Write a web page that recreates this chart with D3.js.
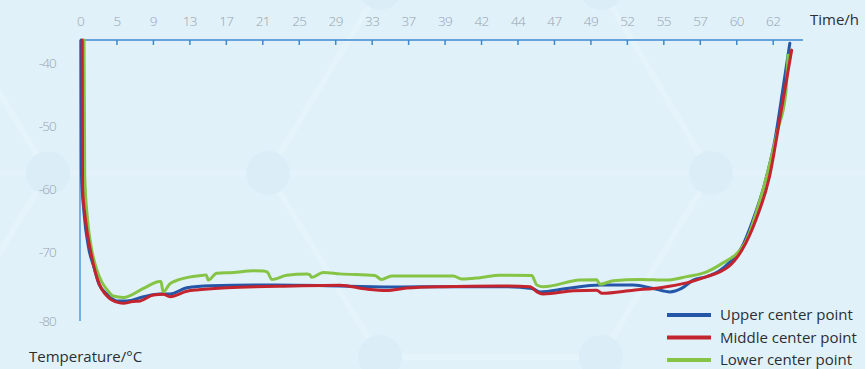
<!DOCTYPE html>
<html>
<head>
<meta charset="utf-8">
<script src="https://cdn.jsdelivr.net/npm/d3@7"></script>
<style>
  html, body { margin: 0; padding: 0; background: #e0f1fa; }
  svg { display: block; }
</style>
</head>
<body>
<svg id="chart" width="865" height="369"></svg>
<script>
// Time axis labels (hours), placed at evenly spaced slots along the top axis
const timeLabels = [0, 5, 9, 13, 17, 21, 25, 29, 33, 37, 39, 42, 44, 47, 49, 52, 55, 57, 60, 62];
const tempTicks = [-40, -50, -60, -70, -80];

// Each reading: [axis slot, temperature °C]
const upperCenter = [
  [0.03, -36.3], [0.04, -57.5], [0.11, -63.8], [0.23, -69.2], [0.38, -72.2], [0.53, -74.8],
  [0.76, -76.2], [1.01, -77.1], [1.28, -77.1], [1.74, -76.5], [2.19, -76.1], [2.47, -76.1],
  [2.93, -75.2], [3.57, -74.9], [5.37, -74.8], [7.13, -74.95], [8.78, -75.1], [9.91, -75.05],
  [11.52, -75.05], [12.39, -75.3], [12.62, -75.8], [13.35, -75.3], [14.26, -74.8], [15.18, -74.8],
  [15.72, -75.3], [16.18, -75.8], [16.5, -75.3], [16.82, -74.1], [17.19, -73.6], [17.55, -72.7],
  [17.78, -71.7], [18.16, -69.2], [18.46, -64.9], [18.76, -59.6], [19.06, -52.2], [19.29, -43.7],
  [19.47, -36.8]
];
const middleCenter = [
  [0.06, -36.3], [0.07, -59.7], [0.15, -64.9], [0.3, -70.2], [0.5, -74.3], [0.76, -76.5],
  [1.06, -77.35], [1.19, -77.45], [1.44, -77.2], [1.65, -77.1], [2.01, -76.25], [2.28, -76.15],
  [2.47, -76.5], [2.93, -75.7], [3.25, -75.5], [4.02, -75.2], [5.85, -74.95], [7.13, -74.85],
  [7.86, -75.4], [8.41, -75.6], [8.96, -75.25], [9.91, -75.05], [11.52, -74.95], [12.34, -75.05],
  [12.57, -75.9], [12.71, -76.1], [13.53, -75.65], [14.17, -75.55], [14.31, -76.0], [15.18, -75.55],
  [15.96, -75.15], [16.64, -74.5], [17.19, -73.6], [17.55, -72.9], [17.78, -72.2], [18.16, -69.7],
  [18.54, -64.9], [18.91, -58.1], [19.22, -48.0], [19.52, -37.9]
];
const lowerCenter = [
  [0.11, -36.3], [0.13, -58.0], [0.2, -64.5], [0.3, -69.0], [0.46, -72.6], [0.6, -74.4],
  [0.76, -75.6], [0.91, -76.4], [1.19, -76.6], [1.74, -75.3], [2.19, -74.3], [2.22, -74.3],
  [2.28, -75.8], [2.47, -74.6], [2.74, -74.0], [3.38, -73.4], [3.46, -73.35], [3.52, -74.1],
  [3.75, -73.1], [4.2, -73.0], [4.75, -72.75], [5.03, -72.8], [5.14, -72.95], [5.26, -74.0],
  [5.67, -73.4], [6.22, -73.2], [6.3, -73.3], [6.35, -73.7], [6.67, -73.0], [7.13, -73.2],
  [8.09, -73.45], [8.27, -74.0], [8.55, -73.5], [10.24, -73.5], [10.47, -73.95], [10.97, -73.75],
  [11.52, -73.4], [12.39, -73.45], [12.53, -74.8], [12.71, -75.05], [13.71, -74.1], [14.17, -74.05],
  [14.26, -74.7], [14.63, -74.2], [15.36, -74.0], [16.09, -74.1], [16.64, -73.6], [17.19, -72.9],
  [17.55, -71.9], [18.24, -68.6], [18.68, -61.2], [19.14, -50.6], [19.36, -44.7], [19.42, -38.7]
];

const seriesNames = ["Upper center point", "Middle center point", "Lower center point"];
const seriesColors = ["#2457a8", "#c4242d", "#86c445"];
const seriesData = [upperCenter, middleCenter, lowerCenter];
const drawOrder = [0, 2, 1];

const svg = d3.select("#chart");

// Soft hexagonal network in the background
const deco = svg.append("g");
const nodes = {
  a: [48, 173], b: [268, 173], c: [380, -12], d: [601, -12],
  e: [711, 173], f: [601, 357], g: [380, 357], h: [-64, -12], i: [-64, 357]
};
const edges = [["h","a"],["a","i"],["b","c"],["c","d"],["d","e"],["e","f"],["f","g"],["g","b"]];
deco.append("line").attr("x1", 0).attr("y1", 173).attr("x2", 865).attr("y2", 173)
  .attr("stroke", "#e4f3fb").attr("stroke-width", 6);
edges.forEach(([p, q]) => {
  deco.append("line")
    .attr("x1", nodes[p][0]).attr("y1", nodes[p][1])
    .attr("x2", nodes[q][0]).attr("y2", nodes[q][1])
    .attr("stroke", "#e5f3fb").attr("stroke-width", 6);
});
["a","b","e","f","g","c","d"].forEach(k => {
  deco.append("circle").attr("cx", nodes[k][0]).attr("cy", nodes[k][1]).attr("r", 22)
    .attr("fill", "#dbeef8");
});

// Scales: evenly spaced time slots, temperature downwards
const x = d3.scaleLinear().domain([0, 19]).range([80, 772.7]);
const y = d3.scaleLinear().domain([-80, -70, -40]).range([321, 251.7, 63.3]);

// Top time axis
const xAxis = d3.axisTop(x)
  .tickValues(d3.range(timeLabels.length))
  .tickFormat(i => timeLabels[i])
  .tickSize(-5)
  .tickPadding(0);
const gx = svg.append("g").attr("transform", "translate(0,40)").call(xAxis);
gx.select(".domain").remove();
gx.append("line").attr("x1", 80).attr("x2", 803).attr("y1", 0).attr("y2", 0)
  .attr("stroke", "#3d88cf").attr("stroke-width", 1.6);
gx.selectAll(".tick line").attr("stroke", "#3d88cf").attr("stroke-width", 1.5);
gx.selectAll(".tick text")
  .attr("y", -14)
  .attr("fill", "#97a4ae")
  .style("font-family", "'Open Sans', sans-serif")
  .style("font-weight", 300)
  .style("font-size", "13.5px")
  .style("letter-spacing", "-0.6px");

// Left temperature axis
const yAxis = d3.axisLeft(y).tickValues(tempTicks).tickFormat(d => d).tickSize(0).tickPadding(24);
const gy = svg.append("g").attr("transform", "translate(80,0)").call(yAxis);
gy.select(".domain").remove();
gy.append("line").attr("x1", 0).attr("x2", 0).attr("y1", 40).attr("y2", 321)
  .attr("stroke", "#68a8e0").attr("stroke-width", 1.8);
gy.selectAll(".tick text")
  .attr("fill", "#97a4ae")
  .style("font-family", "'Open Sans', sans-serif")
  .style("font-weight", 300)
  .style("font-size", "13.5px")
  .style("letter-spacing", "-0.8px");

// Curves
const line = d3.line().x(d => x(d[0])).y(d => y(d[1])).curve(d3.curveMonotoneX);
drawOrder.forEach(k => {
  svg.append("path")
    .datum(seriesData[k])
    .attr("d", line)
    .attr("fill", "none")
    .attr("stroke", seriesColors[k])
    .attr("stroke-width", 3)
    .attr("stroke-linejoin", "round")
    .attr("stroke-linecap", "round");
});

// Axis titles
svg.append("text").attr("x", 810).attr("y", 25).text("Time/h")
  .attr("fill", "#2b2f33").style("font-family", "'Open Sans', sans-serif")
  .style("font-size", "15px");
svg.append("text").attr("x", 29).attr("y", 362).text("Temperature/°C")
  .attr("fill", "#2b2f33").style("font-family", "'Open Sans', sans-serif")
  .style("font-size", "15px");

// Legend
const legend = svg.append("g").attr("transform", "translate(667,315)");
seriesNames.forEach((name, i) => {
  const row = legend.append("g").attr("transform", `translate(0,${i * 22.5})`);
  row.append("line").attr("x1", 0).attr("x2", 44).attr("y1", 0).attr("y2", 0)
    .attr("stroke", seriesColors[i]).attr("stroke-width", 4);
  row.append("text").attr("x", 53).attr("y", 5).text(name)
    .attr("fill", "#2b2f33").style("font-family", "'Open Sans', sans-serif")
    .style("font-size", "15px");
});
</script>
</body>
</html>
